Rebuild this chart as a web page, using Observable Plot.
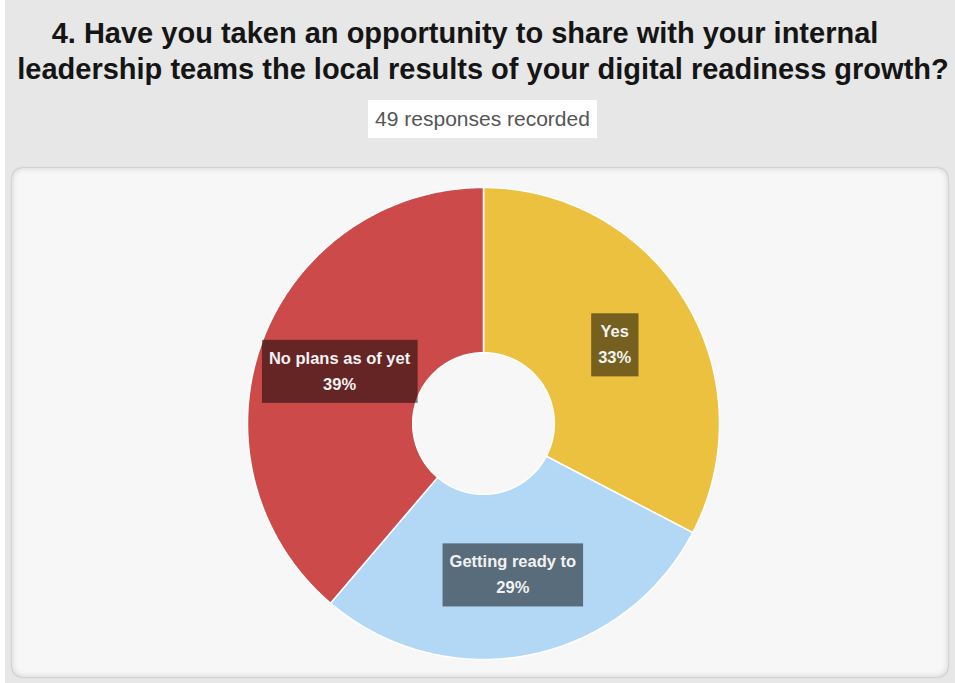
<!DOCTYPE html>
<html><head><meta charset="utf-8">
<script src="https://cdn.jsdelivr.net/npm/d3@7"></script>
<script src="https://cdn.jsdelivr.net/npm/@observablehq/plot@0.6"></script>
<style>
html,body{margin:0;padding:0;background:#fff;width:955px;height:683px;overflow:hidden;}
body{font-family:"Liberation Sans",Arial,sans-serif;}
#bg{position:absolute;left:5px;top:0;width:950px;height:683px;background:#e7e7e7;}
#title{position:absolute;left:0;top:15px;width:966px;text-align:center;font-weight:bold;font-size:29px;line-height:36px;color:#151515;white-space:nowrap;}
#title .l1{position:relative;left:-18px;}
#sub{position:absolute;left:368px;top:100px;width:229px;height:38px;background:#fff;color:#555;font-size:21px;line-height:38px;text-align:center;white-space:nowrap;}
#panel{position:absolute;left:12px;top:168px;width:936px;height:509px;background:#f7f7f7;border-radius:10px;box-shadow:inset 0 0 6px rgba(0,0,0,.16),0 0 2px rgba(0,0,0,.3);}
#panel svg{position:absolute;left:0;top:0;}
</style></head>
<body>
<div id="bg"></div>
<div id="title"><span class="l1">4. Have you taken an opportunity to share with your internal</span><br>leadership teams the local results of your digital readiness growth?</div>
<div id="sub">49 responses recorded</div>
<div id="panel"></div>
<script>
// Data (49 responses; shown as 33% / 29% / 39%)
const labels = ["Yes", "Getting ready to", "No plans as of yet"];
const counts = [16, 14, 19];
const colors = ["#ecc13f", "#b3d8f6", "#cc4a4a"];

const innerRatio = 0.3;
const total = d3.sum(counts);
const slices = d3.pie().sort(null).value(d => d.count)(labels.map((label, i) => ({label, count: counts[i]})));

// polygon outline for each slice in unit coordinates
const pts = [];
for (const s of slices) {
  const n = 240;
  for (let k = 0; k <= n; k++) {
    const a = s.startAngle + (s.endAngle - s.startAngle) * k / n;
    pts.push({label: s.data.label, x: Math.sin(a), y: Math.cos(a)});
  }
  for (let k = n; k >= 0; k--) {
    const a = s.startAngle + (s.endAngle - s.startAngle) * k / n;
    pts.push({label: s.data.label, x: innerRatio * Math.sin(a), y: innerRatio * Math.cos(a)});
  }
}
const mid = slices.map(s => {
  const a = (s.startAngle + s.endAngle) / 2, r = (1 + innerRatio) / 2;
  return {x: r * Math.sin(a), y: r * Math.cos(a),
          text: s.data.label + "\n" + Math.round(s.data.count / total * 100) + "%"};
});

const W = 936, H = 509, cx = 471, cy = 255, R = 236;
const chart = Plot.plot({
  width: W, height: H,
  margin: 0,
  style: {background: "transparent", overflow: "visible"},
  x: {domain: [-1, 1], range: [cx - R, cx + R], axis: null},
  y: {domain: [-1, 1], range: [cy + R, cy - R], axis: null},
  color: {domain: labels, range: colors},
  marks: [
    Plot.line(pts, {x: "x", y: "y", z: "label", fill: "label", stroke: "#ffffff", strokeWidth: 1.5, curve: "linear-closed"}),
    Plot.text(mid, {x: "x", y: "y", text: "text", fill: "#f2f2f2", fontSize: 16.5, fontWeight: "bold",
      fontFamily: "Liberation Sans, Arial, sans-serif", lineHeight: 1.58, dy: -2})
  ]
});
document.getElementById("panel").appendChild(chart);

// dark translucent boxes behind the labels
d3.select(chart).selectAll("text").each(function () {
  const b = this.getBBox();
  const r = document.createElementNS("http://www.w3.org/2000/svg", "rect");
  r.setAttribute("x", b.x - 7); r.setAttribute("y", b.y - 9);
  r.setAttribute("width", b.width + 14); r.setAttribute("height", b.height + 19);
  r.setAttribute("fill", "#000"); r.setAttribute("fill-opacity", 0.5);
  const t = this.getAttribute("transform");
  if (t) r.setAttribute("transform", t);
  this.parentNode.insertBefore(r, this);
});
</script>
</body></html>
